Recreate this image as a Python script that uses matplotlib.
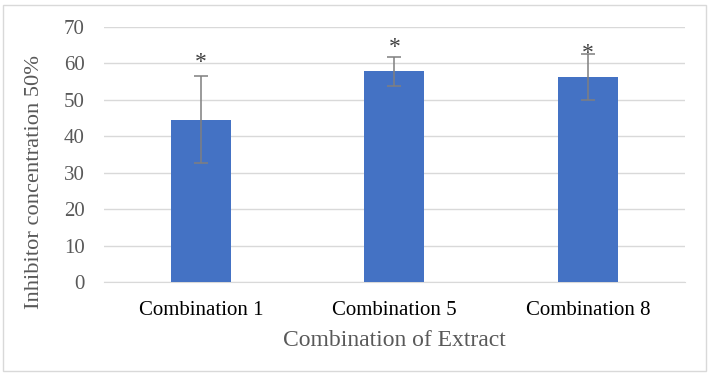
import numpy as np
import matplotlib
matplotlib.use("Agg")
from matplotlib import pyplot as plt
from matplotlib.patches import Rectangle

categories = ["Combination 1", "Combination 5", "Combination 8"]
ic50 = [44.5, 57.8, 56.2]
errors = [12.0, 4.0, 6.2]
star_levels = [60.2, 64.3, 62.6]

plt.rcParams["font.family"] = ["Liberation Serif", "DejaVu Serif"]

fig = plt.figure(figsize=(7.12, 3.75), dpi=100)
ax = fig.add_axes([0.146, 0.248, 0.816, 0.681])

x = np.arange(len(categories))
ax.bar(x, ic50, width=0.31, color="#4472C4", zorder=3)
ax.errorbar(x, ic50, yerr=errors, fmt="none", ecolor="#7F7F7F",
            elinewidth=1.1, capsize=5, capthick=1.1, zorder=4)

# significance marks
for xi, s in zip(x, star_levels):
    ax.text(xi, s, "*", ha="center", va="center", fontsize=17, color="#404040", zorder=5)

ax.set_xlim(-0.5, len(categories) - 0.5)
ax.set_ylim(0, 70)
ax.set_yticks(range(0, 71, 10))
ax.set_xticks(x)
ax.set_xticklabels(categories, fontsize=15, color="black")
ax.tick_params(axis="y", labelsize=15, labelcolor="#595959", length=0, pad=14)
ax.tick_params(axis="x", length=0, pad=14)
ax.grid(axis="y", color="#D9D9D9", linewidth=1.0, zorder=0)
for side in ["top", "right", "left"]:
    ax.spines[side].set_visible(False)
ax.spines["bottom"].set_color("#D9D9D9")

ax.set_ylabel("Inhibitor concentration 50%", fontsize=16.2, color="#595959")
ax.yaxis.set_label_coords(-0.103, 0.39)
ax.set_xlabel("Combination of Extract", fontsize=17, color="#595959", labelpad=7)

fig.patches.append(Rectangle((0.004, 0.011), 0.987, 0.976, transform=fig.transFigure,
                             fill=False, edgecolor="#D9D9D9", linewidth=1.0))

fig.savefig("out.png", dpi=100)
